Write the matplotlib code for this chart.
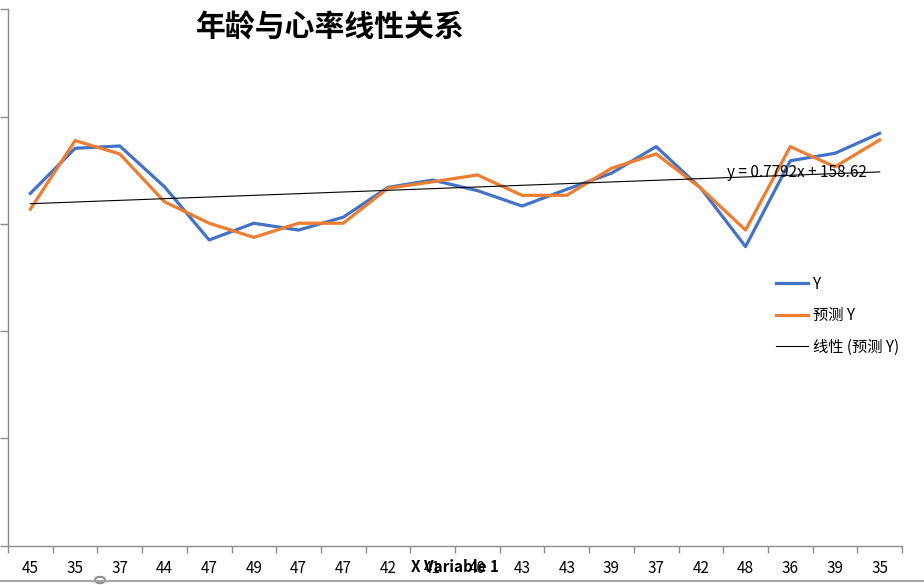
import matplotlib
matplotlib.use("Agg")
import matplotlib.pyplot as plt
import numpy as np
from matplotlib.lines import Line2D
from matplotlib.patches import Circle

plt.rcParams['font.family'] = ['Noto Sans CJK SC', 'DejaVu Sans']

# ---- data ----
age_labels = ["45", "35", "37", "44", "47", "49", "47", "47", "42", "41",
              "40", "43", "43", "39", "37", "42", "48", "36", "39", "35"]
y_actual = [164.2, 185.2, 186.3, 167.3, 142.5, 150.3, 147.1, 153.1, 167.0, 170.4,
            165.5, 158.3, 166.1, 173.6, 186.0, 166.6, 139.4, 179.4, 182.9, 192.2]
y_pred = [156.8, 188.8, 182.6, 160.3, 150.3, 143.7, 150.3, 150.3, 166.6, 169.6,
          172.8, 163.3, 163.3, 175.9, 182.6, 166.6, 147.1, 186.0, 176.6, 189.1]
trend_slope = 0.7792
trend_intercept = 158.62
title = "年龄与心率线性关系"
series_names = ["Y", "预测 Y", "线性 (预测 Y)"]
x_title = "X Variable 1"

W, H = 924, 585
fig = plt.figure(figsize=(W / 100, H / 100), dpi=100)
ax = fig.add_axes([8 / W, (H - 545.7) / H, (902 - 8) / W, (545.7 - 9.3) / H])

x = np.arange(1, len(y_actual) + 1)
blue = "#4472C4"
orange = "#ED7D31"
ax.plot(x, y_actual, color=blue, lw=2.3, solid_joinstyle="round", zorder=3)
ax.plot(x, y_pred, color=orange, lw=2.3, solid_joinstyle="round", zorder=4)
xt = np.array([x[0], x[-1]])
ax.plot(xt, trend_slope * xt + trend_intercept, color="black", lw=0.8, zorder=5)

ax.set_xlim(0.5, len(x) + 0.5)
ax.set_ylim(0, 250)

for s in ["top", "right"]:
    ax.spines[s].set_visible(False)
for s in ["left", "bottom"]:
    ax.spines[s].set_color("#8c8c8c")
    ax.spines[s].set_linewidth(1.0)

ax.set_yticks(np.arange(0, 251, 50))
ax.tick_params(axis="y", length=6, width=1, color="#8c8c8c", labelleft=False)
ax.set_xticks(np.arange(0.5, len(x) + 1, 1))
ax.set_xticklabels([])
ax.tick_params(axis="x", length=5, width=1, color="#8c8c8c", direction="out")
ax.set_xticks(x, minor=True)
ax.set_xticklabels(age_labels, minor=True, fontsize=11, color="#000000")
ax.tick_params(axis="x", which="minor", length=0, pad=10)

# title
fig.text(330 / W, 1 - 28 / H, title, fontsize=21.5, fontweight="bold",
         ha="center", va="center")

# x-axis title (overlapping labels as in original)
fig.text(455 / W, 1 - 567 / H, x_title, fontsize=11, fontweight="bold",
         ha="center", va="center")

# trend equation
ax.text(727 / W, 1 - 172 / H, f"y = {trend_slope}x + {trend_intercept}",
        transform=fig.transFigure, fontsize=11, ha="left", va="center", zorder=6)

# legend
handles = [Line2D([], [], color=blue, lw=2.3),
           Line2D([], [], color=orange, lw=2.3),
           Line2D([], [], color="black", lw=0.8)]
leg = fig.legend(handles, series_names, loc="upper left",
                 bbox_to_anchor=(762 / W, 1 - 262 / H), frameon=False,
                 fontsize=11, handlelength=2.1, handletextpad=0.35,
                 labelspacing=0.95)

# chart frame artifacts (bottom border + handles)
fig.add_artist(Line2D([0, 1], [1 - 581 / H, 1 - 581 / H], transform=fig.transFigure,
                      color="#a6a6a6", lw=1.5))
fig.add_artist(Circle((100 / W, 1 - 580 / H), 5 / W, transform=fig.transFigure,
                      facecolor="white", edgecolor="#8c8c8c", lw=1.5))

fig.savefig("out.png", dpi=100)
